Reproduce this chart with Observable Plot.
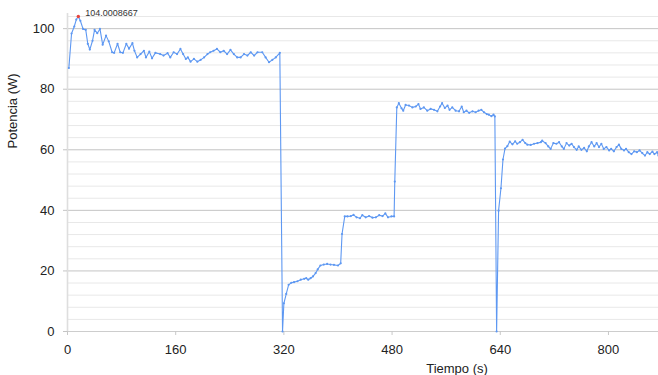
<!DOCTYPE html>
<html>
<head>
<meta charset="utf-8">
<script src="https://cdn.jsdelivr.net/npm/d3@7"></script>
<script src="https://cdn.jsdelivr.net/npm/@observablehq/plot@0.6"></script>
<style>
  html, body { margin: 0; padding: 0; background: white; overflow: hidden; }
</style>
</head>
<body>
<div id="chart"></div>
<script>
// Tick values
const xTicks = [0, 160, 320, 480, 640, 800];
const yMajorTicks = [0, 20, 40, 60, 80, 100];
const yMinorTicks = [4, 8, 12, 16, 24, 28, 32, 36, 44, 48, 52, 56, 64, 68, 72, 76, 84, 88, 92, 96, 104];

// Series: time (s) and power (W)
const time = [
  2, 6, 10, 13, 16, 19, 23, 27, 30, 33, 37, 40, 44, 48, 52, 57, 61, 66, 69, 74,
  78, 82, 87, 91, 96, 99, 103, 108, 113, 116, 121, 125, 130, 137, 142, 148, 152, 157, 162, 167,
  171, 175, 178, 182, 187, 192, 197, 202, 207, 211, 216, 221, 226, 231, 236, 241, 246, 251, 256, 261,
  266, 271, 276, 281, 288, 293, 298, 303, 308, 314,
  318, 320, 323.5, 327, 331, 335, 340, 345, 350, 353, 356, 359.5, 363, 367, 370, 374, 379, 384, 389, 394,
  400, 404, 406, 410, 414, 419, 423, 427.5, 432.5, 436, 441, 446, 451, 456, 461, 466, 470, 474, 479, 483,
  484, 487, 490, 494, 496.5, 500, 505, 510, 515, 519, 522, 527, 532, 537, 542, 547, 551, 554, 558, 562,
  565, 569, 574, 579, 583, 586, 590, 594, 599, 603.5, 608, 612, 616, 620, 623, 627, 630, 632,
  634.6, 637.5, 641, 644, 647, 650.5, 654, 658, 662, 665, 669, 673, 677, 680, 685, 690, 695, 700, 702, 707,
  711, 714.5, 718.5, 723, 727, 731, 734, 738, 742, 745.5, 749, 753, 756, 760, 764, 768, 771, 775, 779, 782.5,
  786, 789.5, 793, 797, 801, 804, 808, 812, 815.5, 819, 823, 826, 830, 834, 838, 842, 846, 850, 854, 857.5,
  861, 865, 868, 872, 874
];
const power = [
  87, 98.4, 100.7, 103, 104.0008667, 102.6, 99.9, 99.6, 95, 93.1, 96, 99.6, 98.5, 99.9, 94.7, 97.7, 95.8, 92.2, 92, 95,
  92.2, 92, 95, 93.4, 95.2, 92.7, 90.5, 91.6, 92.7, 90.5, 92.4, 90.2, 92.0, 91.6, 91.1, 91.9, 90.5, 92.2, 91.6, 93.3,
  91.6, 90.0, 90.5, 89.1, 90.0, 89.1, 89.7, 90.5, 91.6, 92.2, 92.7, 93.3, 92.2, 92.7, 91.6, 93.0, 91.6, 90.5, 90.5, 91.6,
  91.1, 92.2, 91.1, 92.2, 92.2, 90.5, 88.9, 89.7, 90.5, 92,
  0, 9.3, 12.4, 15.4, 16.1, 16.3, 16.6, 17.1, 17.4, 17.6, 17.1, 17.6, 18.2, 19.3, 20.5, 21.8, 22.1, 22.3, 22.1, 22.0,
  21.8, 22.5, 32.2, 38.0, 38.0, 38.1, 38.5, 37.7, 37.4, 38.4, 37.7, 38.1, 37.6, 37.7, 38.4, 38.1, 39.0, 37.7, 38.0, 38.0,
  49.5, 74.0, 75.4, 73.7, 72.9, 74.8, 74.6, 74, 74.3, 75.1, 73.5, 74, 72.9, 73.5, 73.2, 72.7, 74.3, 75.4, 73.8, 74.6,
  73.2, 74, 72.9, 72.7, 74.3, 72.4, 72.9, 72.2, 72.7, 72.4, 72.9, 73.2, 72.4, 71.8, 71.6, 71.1, 71.6, 71.0,
  0, 39.9, 47.3, 56.8, 60.4, 61.2, 62.7, 61.8, 62.8, 62.0, 62.5, 63.3, 62.2, 61.7, 61.6, 62.0, 62.2, 62.5, 63.0, 62.2,
  61.1, 60.3, 62.2, 62.0, 62.5, 61.1, 60.3, 62.2, 61.4, 62.0, 60.9, 60.0, 61.1, 60.0, 60.6, 59.5, 61.1, 62.5, 61.1, 62.2,
  60.9, 62.0, 60.3, 60.9, 59.8, 60.3, 59.5, 60.9, 61.7, 60.3, 59.8, 60.3, 59.2, 58.6, 59.5, 59.2, 59.8, 58.9, 58.1, 59.2,
  58.6, 59.4, 58.6, 59.2, 58.1
];
const xLabel = "Tiempo (s)";
const yLabel = "Potencia (W)";

const data = time.map((t, i) => ({t, p: power[i]}));
const peak = [d3.greatest(data, d => d.p)];

const lineColor = "#5e98f2";
const font = "Arial, 'Liberation Sans', sans-serif";

const chart = Plot.plot({
  width: 658,
  height: 375,
  marginLeft: 67,
  marginRight: 0,
  marginTop: 13,
  marginBottom: 44,
  style: {fontFamily: font, background: "white", overflow: "visible"},
  x: {domain: [0, 874]},
  y: {domain: [0, 105]},
  marks: [
    Plot.ruleY(yMinorTicks, {stroke: "#e8e8e8", strokeWidth: 1}),
    Plot.ruleY(yMajorTicks.filter(d => d > 0), {stroke: "#c4c4c4", strokeWidth: 1}),
    Plot.ruleY([0], {stroke: "#cdcdcd", strokeWidth: 1}),
    Plot.ruleX([0], {stroke: "#dedede", strokeWidth: 1.6}),
    Plot.axisY(yMajorTicks, {tickSize: 4, tickPadding: 9, stroke: "#c4c4c4", fill: "#222", fontSize: 13, label: null}),
    Plot.axisX(xTicks, {tickSize: 4, tickPadding: 9, stroke: "#c8c8c8", fill: "#222", fontSize: 13, label: null}),
    Plot.line(data, {x: "t", y: "p", stroke: lineColor, strokeWidth: 1.1}),
    Plot.dot(data, {x: "t", y: "p", r: 1.1, fill: lineColor, stroke: null}),
    Plot.dot(peak, {x: "t", y: "p", r: 1.7, fill: "#e8453c", stroke: null}),
    Plot.text(peak, {x: "t", y: "p", text: d => String(d.p), dx: 7, dy: -3, textAnchor: "start", fontSize: 9, fill: "#333"}),
    Plot.text([xLabel], {text: d => d, frameAnchor: "bottom", lineAnchor: "top", dx: 94, dy: 32, fontSize: 13, fill: "#222"}),
    Plot.text([yLabel], {text: d => d, frameAnchor: "left", dx: -55, dy: -24, rotate: -90, fontSize: 13, fill: "#222"})
  ]
});
document.getElementById("chart").appendChild(chart);
</script>
</body>
</html>
